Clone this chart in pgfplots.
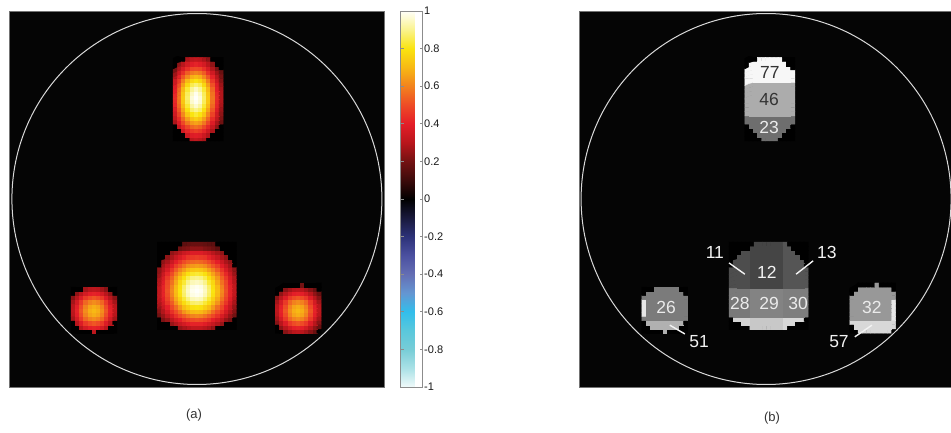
\documentclass[border=0pt]{standalone}
\usepackage{fontspec}
\setmainfont{Liberation Sans}
\usepackage{pgfplots}
\pgfplotsset{compat=1.18}
\pgfplotsset{every colorbar/.append style={
    font=\fontsize{11}{13}\selectfont,
    tick label style={font=\fontsize{11}{13}\selectfont},
    yticklabel style={font=\fontsize{11}{13}\selectfont, text=black!90, inner sep=1.5pt}}}
\begin{document}
\begin{tikzpicture}
% ---------------- panel (a) ----------------
\begin{axis}[
  at={(9pt,46pt)}, anchor=south west, scale only axis,
  width=375pt, height=376pt,
  xmin=0, xmax=90, ymin=0, ymax=90, enlargelimits=false,
  xtick=\empty, ytick=\empty,
  axis background/.style={fill=black!98},
  axis line style={black!55, line width=0.5pt},
  colormap={bluehot}{rgb255=(240,250,250) rgb255=(170,225,230) rgb255=(120,205,215) rgb255=(90,200,220) rgb255=(50,190,235) rgb255=(100,150,210) rgb255=(100,110,180) rgb255=(75,80,160) rgb255=(45,50,120) rgb255=(25,25,60) rgb255=(0,0,0) rgb255=(60,10,10) rgb255=(115,18,18) rgb255=(185,22,28) rgb255=(228,30,40) rgb255=(238,75,38) rgb255=(242,130,30) rgb255=(248,185,20) rgb255=(250,228,15) rgb255=(250,243,140) rgb255=(255,255,250)},
  point meta min=-100, point meta max=100,
  colorbar,
  colorbar style={
    at={(parent axis.south east)}, anchor=south west, xshift=8pt,
    scale only axis, width=22pt, height=376pt,
    ytick={-100,-80,-60,-40,-20,0,20,40,60,80,100},
    yticklabels={-1,-0.8,-0.6,-0.4,-0.2,0,0.2,0.4,0.6,0.8,1},
    ytick pos=both, yticklabel pos=right,
    tick style={black!45, line width=0.6pt},
    major tick length=3pt,
    axis line style={black!45, line width=0.6pt},
  },
]
% top blob
\addplot[matrix plot*, mesh/cols=12, mesh/rows=20, point meta=explicit]
 table[header=false, row sep=\\, x expr={39.9+mod(\coordindex,12)}, y expr={59.4+floor(\coordindex/12)}, meta index=0] {
0\\ 0\\ 0\\ 0\\ 30\\ 32\\ 30\\ 28\\ 0\\ 0\\ 0\\ 0\\
0\\ 0\\ 0\\ 34\\ 38\\ 39\\ 38\\ 34\\ 29\\ 0\\ 0\\ 0\\
0\\ 0\\ 35\\ 42\\ 46\\ 48\\ 46\\ 42\\ 35\\ 28\\ 0\\ 0\\
0\\ 33\\ 42\\ 49\\ 55\\ 57\\ 55\\ 49\\ 42\\ 33\\ 24\\ 0\\
28\\ 38\\ 49\\ 58\\ 64\\ 66\\ 64\\ 58\\ 49\\ 38\\ 28\\ 19\\
32\\ 43\\ 55\\ 65\\ 72\\ 75\\ 72\\ 65\\ 55\\ 43\\ 32\\ 22\\
35\\ 48\\ 61\\ 73\\ 80\\ 83\\ 80\\ 73\\ 61\\ 48\\ 35\\ 24\\
38\\ 52\\ 66\\ 79\\ 87\\ 90\\ 87\\ 79\\ 66\\ 52\\ 38\\ 26\\
41\\ 55\\ 70\\ 83\\ 92\\ 96\\ 92\\ 83\\ 70\\ 55\\ 41\\ 28\\
42\\ 57\\ 73\\ 86\\ 96\\ 99\\ 96\\ 86\\ 73\\ 57\\ 42\\ 29\\
43\\ 58\\ 74\\ 87\\ 97\\ 100\\ 97\\ 87\\ 74\\ 58\\ 43\\ 29\\
42\\ 57\\ 73\\ 86\\ 95\\ 99\\ 95\\ 86\\ 73\\ 57\\ 42\\ 29\\
40\\ 55\\ 70\\ 83\\ 91\\ 95\\ 91\\ 83\\ 70\\ 55\\ 40\\ 28\\
38\\ 51\\ 65\\ 77\\ 85\\ 88\\ 85\\ 77\\ 65\\ 51\\ 38\\ 26\\
34\\ 46\\ 59\\ 70\\ 77\\ 80\\ 77\\ 70\\ 59\\ 46\\ 34\\ 23\\
30\\ 41\\ 52\\ 61\\ 68\\ 70\\ 68\\ 61\\ 52\\ 41\\ 30\\ 21\\
26\\ 35\\ 44\\ 53\\ 58\\ 60\\ 58\\ 53\\ 44\\ 35\\ 26\\ 18\\
21\\ 29\\ 37\\ 44\\ 49\\ 50\\ 49\\ 44\\ 37\\ 29\\ 21\\ 0\\
0\\ 24\\ 30\\ 36\\ 39\\ 41\\ 39\\ 36\\ 30\\ 24\\ 0\\ 0\\
0\\ 0\\ 0\\ 28\\ 31\\ 32\\ 31\\ 28\\ 24\\ 0\\ 0\\ 0\\
};
% central blob
\addplot[matrix plot*, mesh/cols=19, mesh/rows=21, point meta=explicit]
 table[header=false, row sep=\\, x expr={36.1+mod(\coordindex,19)}, y expr={14.2+floor(\coordindex/19)}, meta index=0] {
0\\ 0\\ 0\\ 0\\ 0\\ 25\\ 28\\ 30\\ 32\\ 32\\ 32\\ 30\\ 28\\ 25\\ 0\\ 0\\ 0\\ 0\\ 0\\
0\\ 0\\ 0\\ 25\\ 29\\ 33\\ 36\\ 39\\ 41\\ 41\\ 41\\ 39\\ 36\\ 33\\ 29\\ 25\\ 0\\ 0\\ 0\\
0\\ 21\\ 25\\ 31\\ 36\\ 40\\ 45\\ 48\\ 50\\ 51\\ 50\\ 48\\ 45\\ 40\\ 36\\ 31\\ 25\\ 21\\ 0\\
20\\ 25\\ 31\\ 37\\ 44\\ 49\\ 53\\ 57\\ 60\\ 61\\ 60\\ 57\\ 53\\ 49\\ 44\\ 37\\ 31\\ 25\\ 20\\
23\\ 29\\ 36\\ 44\\ 50\\ 56\\ 63\\ 67\\ 70\\ 71\\ 70\\ 67\\ 63\\ 56\\ 50\\ 44\\ 36\\ 29\\ 23\\
25\\ 33\\ 40\\ 49\\ 56\\ 64\\ 71\\ 75\\ 79\\ 80\\ 79\\ 75\\ 71\\ 64\\ 56\\ 49\\ 40\\ 33\\ 25\\
28\\ 36\\ 45\\ 53\\ 63\\ 71\\ 78\\ 83\\ 87\\ 88\\ 87\\ 83\\ 78\\ 71\\ 63\\ 53\\ 45\\ 36\\ 28\\
30\\ 39\\ 48\\ 57\\ 67\\ 75\\ 83\\ 89\\ 94\\ 95\\ 94\\ 89\\ 83\\ 75\\ 67\\ 57\\ 48\\ 39\\ 30\\
32\\ 41\\ 50\\ 60\\ 70\\ 79\\ 87\\ 94\\ 98\\ 99\\ 98\\ 94\\ 87\\ 79\\ 70\\ 60\\ 50\\ 41\\ 32\\
32\\ 41\\ 51\\ 61\\ 71\\ 80\\ 88\\ 95\\ 99\\ 100\\ 99\\ 95\\ 88\\ 80\\ 71\\ 61\\ 51\\ 41\\ 32\\
32\\ 41\\ 50\\ 60\\ 70\\ 79\\ 87\\ 94\\ 98\\ 99\\ 98\\ 94\\ 87\\ 79\\ 70\\ 60\\ 50\\ 41\\ 32\\
30\\ 39\\ 49\\ 57\\ 67\\ 77\\ 83\\ 90\\ 94\\ 95\\ 94\\ 90\\ 83\\ 77\\ 67\\ 57\\ 49\\ 39\\ 30\\
29\\ 37\\ 46\\ 54\\ 64\\ 72\\ 79\\ 85\\ 89\\ 90\\ 89\\ 85\\ 79\\ 72\\ 64\\ 54\\ 46\\ 37\\ 29\\
26\\ 34\\ 42\\ 50\\ 59\\ 66\\ 73\\ 79\\ 82\\ 83\\ 82\\ 79\\ 73\\ 66\\ 59\\ 50\\ 42\\ 34\\ 26\\
24\\ 30\\ 37\\ 45\\ 53\\ 60\\ 65\\ 70\\ 73\\ 74\\ 73\\ 70\\ 65\\ 60\\ 53\\ 45\\ 37\\ 30\\ 24\\
0\\ 27\\ 33\\ 39\\ 47\\ 52\\ 57\\ 62\\ 64\\ 65\\ 64\\ 62\\ 57\\ 52\\ 47\\ 39\\ 33\\ 27\\ 0\\
0\\ 24\\ 28\\ 34\\ 40\\ 45\\ 50\\ 53\\ 55\\ 56\\ 55\\ 53\\ 50\\ 45\\ 40\\ 34\\ 28\\ 24\\ 0\\
0\\ 0\\ 24\\ 28\\ 33\\ 37\\ 41\\ 45\\ 46\\ 47\\ 46\\ 45\\ 41\\ 37\\ 33\\ 28\\ 24\\ 0\\ 0\\
0\\ 0\\ 0\\ 24\\ 27\\ 30\\ 34\\ 36\\ 38\\ 38\\ 38\\ 36\\ 34\\ 30\\ 27\\ 24\\ 0\\ 0\\ 0\\
0\\ 0\\ 0\\ 0\\ 0\\ 19\\ 21\\ 22\\ 24\\ 24\\ 24\\ 22\\ 21\\ 19\\ 16\\ 0\\ 0\\ 0\\ 0\\
0\\ 0\\ 0\\ 0\\ 0\\ 0\\ 16\\ 17\\ 18\\ 18\\ 18\\ 17\\ 16\\ 16\\ 0\\ 0\\ 0\\ 0\\ 0\\
};
% left small blob
\addplot[matrix plot*, mesh/cols=11, mesh/rows=11, point meta=explicit]
 table[header=false, row sep=\\, x expr={15.4+mod(\coordindex,11)}, y expr={13.4+floor(\coordindex/11)}, meta index=0] {
0\\ 0\\ 0\\ 0\\ 0\\ 31\\ 0\\ 0\\ 0\\ 0\\ 0\\
0\\ 0\\ 30\\ 36\\ 40\\ 41\\ 40\\ 36\\ 30\\ 0\\ 0\\
0\\ 30\\ 38\\ 46\\ 50\\ 52\\ 50\\ 46\\ 38\\ 30\\ 0\\
27\\ 36\\ 46\\ 55\\ 60\\ 62\\ 60\\ 55\\ 46\\ 36\\ 27\\
30\\ 40\\ 50\\ 60\\ 66\\ 68\\ 66\\ 60\\ 50\\ 40\\ 30\\
31\\ 41\\ 52\\ 62\\ 68\\ 70\\ 68\\ 62\\ 52\\ 41\\ 31\\
30\\ 40\\ 50\\ 60\\ 66\\ 68\\ 66\\ 60\\ 50\\ 40\\ 30\\
27\\ 36\\ 46\\ 55\\ 60\\ 62\\ 60\\ 55\\ 46\\ 36\\ 27\\
23\\ 30\\ 38\\ 46\\ 50\\ 52\\ 50\\ 46\\ 38\\ 30\\ 23\\
0\\ 24\\ 30\\ 36\\ 40\\ 41\\ 40\\ 36\\ 30\\ 24\\ 0\\
0\\ 0\\ 0\\ 27\\ 30\\ 31\\ 30\\ 27\\ 23\\ 0\\ 0\\
};
% right small blob
\addplot[matrix plot*, mesh/cols=11, mesh/rows=12, point meta=explicit]
 table[header=false, row sep=\\, x expr={64.4+mod(\coordindex,11)}, y expr={13.4+floor(\coordindex/11)}, meta index=0] {
0\\ 0\\ 23\\ 27\\ 30\\ 31\\ 30\\ 27\\ 23\\ 18\\ 0\\
0\\ 24\\ 30\\ 36\\ 40\\ 41\\ 40\\ 36\\ 30\\ 24\\ 18\\
23\\ 30\\ 38\\ 46\\ 50\\ 52\\ 50\\ 46\\ 38\\ 30\\ 23\\
27\\ 36\\ 46\\ 55\\ 60\\ 62\\ 60\\ 55\\ 46\\ 36\\ 27\\
30\\ 40\\ 50\\ 60\\ 66\\ 68\\ 66\\ 60\\ 50\\ 40\\ 30\\
31\\ 41\\ 52\\ 62\\ 68\\ 70\\ 68\\ 62\\ 52\\ 41\\ 31\\
30\\ 40\\ 50\\ 60\\ 66\\ 68\\ 66\\ 60\\ 50\\ 40\\ 30\\
27\\ 36\\ 46\\ 55\\ 60\\ 62\\ 60\\ 55\\ 46\\ 36\\ 27\\
23\\ 30\\ 38\\ 46\\ 50\\ 52\\ 50\\ 46\\ 38\\ 30\\ 23\\
0\\ 24\\ 30\\ 36\\ 40\\ 41\\ 40\\ 36\\ 30\\ 24\\ 18\\
0\\ 0\\ 23\\ 27\\ 30\\ 31\\ 30\\ 27\\ 23\\ 18\\ 0\\
0\\ 0\\ 0\\ 0\\ 0\\ 0\\ 20\\ 0\\ 0\\ 0\\ 0\\
};
\draw[white!85!black, line width=1pt] (axis cs:45.1,45) ellipse [x radius=44.4, y radius=44.4];
\end{axis}
% ---------------- panel (b) ----------------
\begin{axis}[
  at={(579pt,46pt)}, anchor=south west, scale only axis,
  width=375pt, height=376pt,
  xmin=0, xmax=90, ymin=0, ymax=90, enlargelimits=false,
  xtick=\empty, ytick=\empty,
  axis background/.style={fill=black!98},
  axis line style={black!55, line width=0.5pt},
  colormap={grays}{gray=(0) gray=(1)},
  point meta min=0, point meta max=100,
]
\addplot[matrix plot*, mesh/cols=12, mesh/rows=20, point meta=explicit]
 table[header=false, row sep=\\, x expr={40.3+mod(\coordindex,12)}, y expr={59.4+floor(\coordindex/12)}, meta index=0] {
0\\ 0\\ 0\\ 0\\ 43\\ 43\\ 43\\ 43\\ 0\\ 0\\ 0\\ 0\\
0\\ 0\\ 0\\ 43\\ 43\\ 43\\ 43\\ 43\\ 43\\ 0\\ 0\\ 0\\
0\\ 0\\ 43\\ 43\\ 43\\ 43\\ 43\\ 43\\ 43\\ 43\\ 0\\ 0\\
0\\ 43\\ 43\\ 43\\ 43\\ 43\\ 43\\ 43\\ 43\\ 43\\ 43\\ 0\\
43\\ 43\\ 43\\ 43\\ 43\\ 43\\ 43\\ 43\\ 43\\ 43\\ 43\\ 43\\
43\\ 43\\ 43\\ 43\\ 43\\ 43\\ 43\\ 43\\ 43\\ 43\\ 43\\ 43\\
67\\ 67\\ 67\\ 67\\ 67\\ 67\\ 67\\ 67\\ 67\\ 67\\ 67\\ 67\\
67\\ 67\\ 67\\ 67\\ 67\\ 67\\ 67\\ 67\\ 67\\ 67\\ 67\\ 67\\
67\\ 67\\ 67\\ 67\\ 67\\ 67\\ 67\\ 67\\ 67\\ 67\\ 67\\ 67\\
67\\ 67\\ 67\\ 67\\ 67\\ 67\\ 67\\ 67\\ 67\\ 67\\ 67\\ 67\\
67\\ 67\\ 67\\ 67\\ 67\\ 67\\ 67\\ 67\\ 67\\ 67\\ 67\\ 67\\
67\\ 67\\ 67\\ 67\\ 67\\ 67\\ 67\\ 67\\ 67\\ 67\\ 67\\ 67\\
67\\ 67\\ 67\\ 67\\ 67\\ 67\\ 67\\ 67\\ 67\\ 67\\ 67\\ 67\\
67\\ 67\\ 67\\ 67\\ 67\\ 67\\ 67\\ 67\\ 67\\ 67\\ 67\\ 67\\
96\\ 96\\ 96\\ 96\\ 96\\ 96\\ 96\\ 96\\ 96\\ 96\\ 96\\ 96\\
96\\ 96\\ 96\\ 96\\ 96\\ 96\\ 96\\ 96\\ 96\\ 96\\ 96\\ 96\\
96\\ 96\\ 96\\ 96\\ 96\\ 96\\ 96\\ 96\\ 96\\ 96\\ 96\\ 96\\
96\\ 96\\ 96\\ 96\\ 96\\ 96\\ 96\\ 96\\ 96\\ 96\\ 96\\ 0\\
0\\ 96\\ 96\\ 96\\ 96\\ 96\\ 96\\ 96\\ 96\\ 96\\ 0\\ 0\\
0\\ 0\\ 0\\ 96\\ 96\\ 96\\ 96\\ 96\\ 96\\ 0\\ 0\\ 0\\
};
\addplot[matrix plot*, mesh/cols=19, mesh/rows=21, point meta=explicit]
 table[header=false, row sep=\\, x expr={36.5+mod(\coordindex,19)}, y expr={14.2+floor(\coordindex/19)}, meta index=0] {
0\\ 0\\ 0\\ 0\\ 0\\ 78\\ 78\\ 78\\ 78\\ 78\\ 78\\ 78\\ 78\\ 84\\ 0\\ 0\\ 0\\ 0\\ 0\\
0\\ 0\\ 0\\ 82\\ 82\\ 78\\ 78\\ 78\\ 78\\ 78\\ 78\\ 78\\ 78\\ 84\\ 84\\ 84\\ 0\\ 0\\ 0\\
0\\ 82\\ 82\\ 82\\ 82\\ 78\\ 78\\ 78\\ 78\\ 78\\ 78\\ 78\\ 78\\ 84\\ 84\\ 84\\ 84\\ 84\\ 0\\
47\\ 47\\ 47\\ 47\\ 47\\ 51\\ 51\\ 51\\ 51\\ 51\\ 51\\ 51\\ 51\\ 49\\ 49\\ 49\\ 49\\ 49\\ 49\\
47\\ 47\\ 47\\ 47\\ 47\\ 51\\ 51\\ 51\\ 51\\ 51\\ 51\\ 51\\ 51\\ 49\\ 49\\ 49\\ 49\\ 49\\ 49\\
47\\ 47\\ 47\\ 47\\ 47\\ 51\\ 51\\ 51\\ 51\\ 51\\ 51\\ 51\\ 51\\ 49\\ 49\\ 49\\ 49\\ 49\\ 49\\
47\\ 47\\ 47\\ 47\\ 47\\ 51\\ 51\\ 51\\ 51\\ 51\\ 51\\ 51\\ 51\\ 49\\ 49\\ 49\\ 49\\ 49\\ 49\\
47\\ 47\\ 47\\ 47\\ 47\\ 51\\ 51\\ 51\\ 51\\ 51\\ 51\\ 51\\ 51\\ 49\\ 49\\ 49\\ 49\\ 49\\ 49\\
47\\ 47\\ 47\\ 47\\ 47\\ 51\\ 51\\ 51\\ 51\\ 51\\ 51\\ 51\\ 51\\ 49\\ 49\\ 49\\ 49\\ 49\\ 49\\
47\\ 47\\ 47\\ 47\\ 47\\ 51\\ 51\\ 51\\ 51\\ 51\\ 51\\ 51\\ 51\\ 49\\ 49\\ 49\\ 49\\ 49\\ 49\\
30\\ 30\\ 30\\ 30\\ 30\\ 27\\ 27\\ 27\\ 27\\ 27\\ 27\\ 27\\ 27\\ 33\\ 33\\ 33\\ 33\\ 33\\ 33\\
30\\ 30\\ 30\\ 30\\ 30\\ 27\\ 27\\ 27\\ 27\\ 27\\ 27\\ 27\\ 27\\ 33\\ 33\\ 33\\ 33\\ 33\\ 33\\
30\\ 30\\ 30\\ 30\\ 30\\ 27\\ 27\\ 27\\ 27\\ 27\\ 27\\ 27\\ 27\\ 33\\ 33\\ 33\\ 33\\ 33\\ 33\\
30\\ 30\\ 30\\ 30\\ 30\\ 27\\ 27\\ 27\\ 27\\ 27\\ 27\\ 27\\ 27\\ 33\\ 33\\ 33\\ 33\\ 33\\ 33\\
30\\ 30\\ 30\\ 30\\ 30\\ 27\\ 27\\ 27\\ 27\\ 27\\ 27\\ 27\\ 27\\ 33\\ 33\\ 33\\ 33\\ 33\\ 33\\
0\\ 30\\ 30\\ 30\\ 30\\ 27\\ 27\\ 27\\ 27\\ 27\\ 27\\ 27\\ 27\\ 33\\ 33\\ 33\\ 33\\ 33\\ 0\\
0\\ 30\\ 30\\ 30\\ 30\\ 27\\ 27\\ 27\\ 27\\ 27\\ 27\\ 27\\ 27\\ 33\\ 33\\ 33\\ 33\\ 33\\ 0\\
0\\ 0\\ 30\\ 30\\ 30\\ 27\\ 27\\ 27\\ 27\\ 27\\ 27\\ 27\\ 27\\ 33\\ 33\\ 33\\ 33\\ 0\\ 0\\
0\\ 0\\ 0\\ 30\\ 30\\ 27\\ 27\\ 27\\ 27\\ 27\\ 27\\ 27\\ 27\\ 33\\ 33\\ 33\\ 0\\ 0\\ 0\\
0\\ 0\\ 0\\ 0\\ 0\\ 27\\ 27\\ 27\\ 27\\ 27\\ 27\\ 27\\ 27\\ 33\\ 33\\ 0\\ 0\\ 0\\ 0\\
0\\ 0\\ 0\\ 0\\ 0\\ 0\\ 27\\ 27\\ 27\\ 27\\ 27\\ 27\\ 27\\ 33\\ 0\\ 0\\ 0\\ 0\\ 0\\
};
\addplot[matrix plot*, mesh/cols=11, mesh/rows=11, point meta=explicit]
 table[header=false, row sep=\\, x expr={15.6+mod(\coordindex,11)}, y expr={13.4+floor(\coordindex/11)}, meta index=0] {
0\\ 0\\ 0\\ 0\\ 0\\ 69\\ 0\\ 0\\ 0\\ 0\\ 0\\
0\\ 0\\ 69\\ 69\\ 69\\ 69\\ 69\\ 69\\ 69\\ 0\\ 0\\
0\\ 69\\ 69\\ 69\\ 69\\ 69\\ 69\\ 69\\ 69\\ 69\\ 0\\
48\\ 48\\ 48\\ 48\\ 48\\ 48\\ 48\\ 48\\ 48\\ 48\\ 48\\
90\\ 48\\ 48\\ 48\\ 48\\ 48\\ 48\\ 48\\ 48\\ 48\\ 48\\
90\\ 48\\ 48\\ 48\\ 48\\ 48\\ 48\\ 48\\ 48\\ 48\\ 48\\
90\\ 48\\ 48\\ 48\\ 48\\ 48\\ 48\\ 48\\ 48\\ 48\\ 48\\
90\\ 48\\ 48\\ 48\\ 48\\ 48\\ 48\\ 48\\ 48\\ 48\\ 48\\
48\\ 48\\ 48\\ 48\\ 48\\ 48\\ 48\\ 48\\ 48\\ 48\\ 48\\
0\\ 48\\ 48\\ 48\\ 48\\ 48\\ 48\\ 48\\ 48\\ 48\\ 0\\
0\\ 0\\ 0\\ 48\\ 48\\ 48\\ 48\\ 48\\ 48\\ 0\\ 0\\
};
\addplot[matrix plot*, mesh/cols=11, mesh/rows=12, point meta=explicit]
 table[header=false, row sep=\\, x expr={65.5+mod(\coordindex,11)}, y expr={13.4+floor(\coordindex/11)}, meta index=0] {
0\\ 0\\ 84\\ 84\\ 84\\ 84\\ 84\\ 84\\ 84\\ 84\\ 0\\
0\\ 84\\ 84\\ 84\\ 84\\ 84\\ 84\\ 84\\ 84\\ 84\\ 84\\
84\\ 84\\ 84\\ 84\\ 84\\ 84\\ 84\\ 84\\ 84\\ 84\\ 84\\
59\\ 59\\ 59\\ 59\\ 59\\ 59\\ 59\\ 59\\ 59\\ 59\\ 90\\
59\\ 59\\ 59\\ 59\\ 59\\ 59\\ 59\\ 59\\ 59\\ 59\\ 90\\
59\\ 59\\ 59\\ 59\\ 59\\ 59\\ 59\\ 59\\ 59\\ 59\\ 90\\
59\\ 59\\ 59\\ 59\\ 59\\ 59\\ 59\\ 59\\ 59\\ 59\\ 90\\
59\\ 59\\ 59\\ 59\\ 59\\ 59\\ 59\\ 59\\ 59\\ 59\\ 90\\
59\\ 59\\ 59\\ 59\\ 59\\ 59\\ 59\\ 59\\ 59\\ 59\\ 59\\
0\\ 59\\ 59\\ 59\\ 59\\ 59\\ 59\\ 59\\ 59\\ 59\\ 59\\
0\\ 0\\ 59\\ 59\\ 59\\ 59\\ 59\\ 59\\ 59\\ 59\\ 0\\
0\\ 0\\ 0\\ 0\\ 0\\ 0\\ 59\\ 0\\ 0\\ 0\\ 0\\
};
\draw[white!85!black, line width=1pt] (axis cs:44.9,45) ellipse [x radius=44.4, y radius=44.4];
\begin{scope}[every node/.style={font=\fontsize{17.5}{20}\selectfont, inner sep=0pt}]
\node[text=black!80] at (axis cs:45.8,75.4) {77};
\node[text=black!80] at (axis cs:45.6,68.9) {46};
\node[text=white!92!black] at (axis cs:45.6,62.0) {23};
\node[text=white!95!black] at (axis cs:32.6,32.3) {11};
\node[text=white!95!black] at (axis cs:59.5,32.3) {13};
\node[text=white!95!black] at (axis cs:45.1,27.5) {12};
\node[text=white!92!black] at (axis cs:38.6,20.1) {28};
\node[text=white!92!black] at (axis cs:45.6,20.1) {29};
\node[text=white!92!black] at (axis cs:52.6,20.1) {30};
\node[text=white!92!black] at (axis cs:20.9,19.1) {26};
\node[text=white!92!black] at (axis cs:70.3,19.1) {32};
\node[text=white!95!black] at (axis cs:28.8,10.8) {51};
\node[text=white!95!black] at (axis cs:62.4,10.8) {57};
\end{scope}
\draw[white!95!black, line width=1.4pt] (axis cs:36.0,29.7) -- (axis cs:39.8,27.0);
\draw[white!95!black, line width=1.4pt] (axis cs:56.2,30.2) -- (axis cs:52.1,27.0);
\draw[white!95!black, line width=1.4pt] (axis cs:21.8,14.8) -- (axis cs:25.4,12.7);
\draw[white!95!black, line width=1.4pt] (axis cs:66.2,12.0) -- (axis cs:70.3,14.8);
\end{axis}
\node[font=\fontsize{13}{15}\selectfont, text=black!80] at (194pt,18pt) {(a)};
\node[font=\fontsize{13}{15}\selectfont, text=black!80] at (772pt,15pt) {(b)};
\pgfresetboundingbox
\useasboundingbox (0pt,0pt) rectangle (951pt,433pt);
\end{tikzpicture}
\end{document}
